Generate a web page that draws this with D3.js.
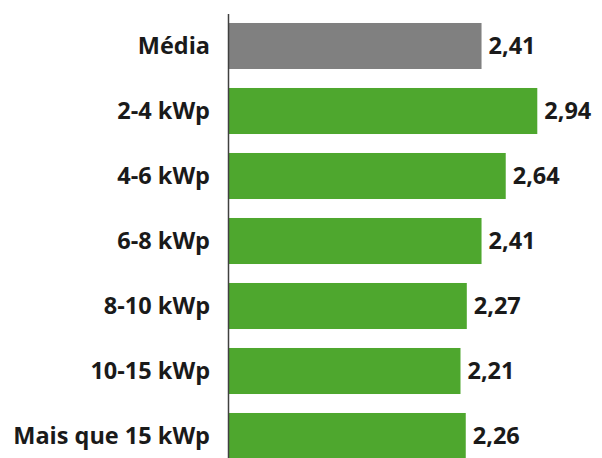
<!DOCTYPE html>
<html>
<head>
<meta charset="utf-8">
<script src="https://cdn.jsdelivr.net/npm/d3@7"></script>
<style>
  body { margin: 0; background: #fff; }
  text { font-family: "Open Sans", sans-serif; font-weight: 700; fill: #1a1a1a; }
</style>
</head>
<body>
<svg id="chart" width="602" height="458"></svg>
<script>
const categories = ["Média", "2-4 kWp", "4-6 kWp", "6-8 kWp", "8-10 kWp", "10-15 kWp", "Mais que 15 kWp"];
const values = [2.41, 2.94, 2.64, 2.41, 2.27, 2.21, 2.26];
const highlight = ["Média"];

const svg = d3.select('#chart');
const width = +svg.attr('width');
const height = +svg.attr('height');

const ptBR = d3.formatLocale({decimal: ",", thousands: ".", grouping: [3], currency: ["R$", ""]});
const fmt = ptBR.format(".2f");

const x = d3.scaleLinear()
  .domain([0, 3])
  .range([228, 543.6]);

const y = d3.scaleBand()
  .domain(categories)
  .range([13.5, 468.5])
  .paddingInner(0.292)
  .paddingOuter(0.146);

const data = categories.map((c, i) => ({name: c, value: values[i]}));

svg.selectAll('rect.bar').data(data)
  .enter().append('rect')
    .attr('class', 'bar')
    .attr('x', x(0))
    .attr('y', d => y(d.name))
    .attr('width', d => x(d.value) - x(0))
    .attr('height', y.bandwidth())
    .attr('fill', d => highlight.includes(d.name) ? '#808080' : '#4ea72e');

// value labels
svg.selectAll('text.val').data(data)
  .enter().append('text')
    .attr('class', 'val')
    .attr('x', d => x(d.value) + 7)
    .attr('y', d => y(d.name) + y.bandwidth() / 2)
    .attr('dy', '0.36em')
    .style('font-size', '23.5px')
    .text(d => fmt(d.value));

// category axis
const axis = svg.append('g')
  .attr('transform', `translate(${x(0)},0)`)
  .call(d3.axisLeft(y).tickSize(0).tickPadding(18));

axis.select('.domain')
  .attr('stroke', '#404040')
  .attr('stroke-width', 1.5);

axis.selectAll('.tick text')
  .attr('fill', '#1a1a1a')
  .attr('dy', '0.36em')
  .style('font-family', '"Open Sans", sans-serif')
  .style('font-weight', 700)
  .style('font-size', '23.5px');
</script>
</body>
</html>
